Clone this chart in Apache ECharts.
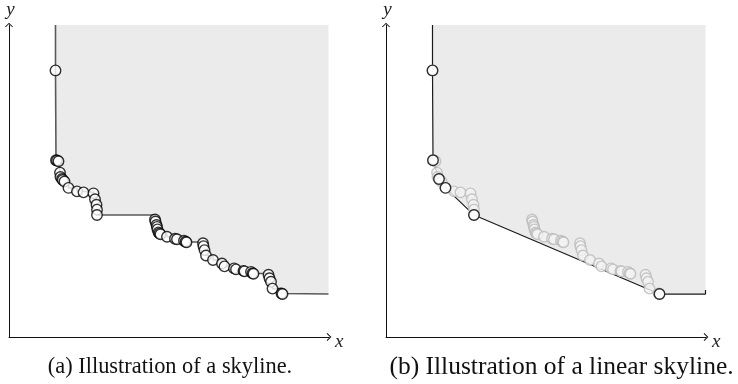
<!DOCTYPE html>
<html>
<head>
<meta charset="utf-8">
<script src="https://cdn.jsdelivr.net/npm/echarts@6/dist/echarts.min.js"></script>
<style>html,body{margin:0;padding:0;background:#fff;}#c{width:738px;height:384px;}</style>
</head>
<body>
<div id="c"></div>
<script>
const points = [
  [46.5,270],[47,179],[48,178.8],[49.5,178],[51,166.5],[51.5,162],[53,160],[53.8,159],[55.5,157.5],[59.5,151],
  [68,147.5],[74.5,146.5],[84.5,145.5],[86,139.5],[87.5,134],[88,129],[88,123.5],
  [146,119],[146.5,117],[147.5,113.5],[148,111.5],[148.5,109],[149.5,106],[150.5,105],[151.5,104],[158,101.5],
  [166,99.5],[168,99],[175,97.5],[176.5,96.5],[177.5,96],
  [194,95],[194.5,92],[195.5,88],[197,82.5],[204,78],[213,74.5],[215.5,71.5],[225,69.5],
  [227,68.5],[234.5,67],[235.5,66.5],[242,66],[243.5,64.5],[244.5,64],
  [259.5,63],[260.5,59.5],[262,56],[263.5,49],[272.5,44],[273.5,43.5]
];
// Points kept by the linear skyline (indices into points)
const linearSkylineIdx = [0,1,6,9,16,50];
const xMax = 320, yMax = 316;
const regionRight = 319.5;
const captions = ['(a) Illustration of a skyline.', '(b) Illustration of a linear skyline.'];
const axisNames = ['x', 'y'];

const arrow = 'path://M4,0 L8,4 L7.3,4.7 L4,1.4 L0.7,4.7 L0,4 Z';
const serif = 'Liberation Serif';

function axisLineCfg() {
  return { show: true, lineStyle: { color: '#111', width: 1 }, symbol: ['none', arrow], symbolSize: [8, 4.7] };
}
function xAxisCfg(gi) {
  return {
    type: 'value', gridIndex: gi, min: 0, max: xMax,
    axisLine: axisLineCfg(), axisTick: { show: false }, axisLabel: { show: false }, splitLine: { show: false },
    name: axisNames[0], nameLocation: 'end', nameGap: 6,
    nameTextStyle: { fontFamily: serif, fontStyle: 'italic', fontSize: 19, color: '#222', verticalAlign: 'top', lineHeight: 10 }
  };
}
function yAxisCfg(gi) {
  return {
    type: 'value', gridIndex: gi, min: 0, max: yMax,
    axisLine: axisLineCfg(), axisTick: { show: false }, axisLabel: { show: false }, splitLine: { show: false },
    name: axisNames[1], nameLocation: 'end', nameGap: 4,
    nameTextStyle: { fontFamily: serif, fontStyle: 'italic', fontSize: 19, color: '#222', align: 'center', verticalAlign: 'bottom', padding: [0, 0, 2, 3] }
  };
}

const first = points[0], last = points[points.length - 1];
const stepData = [[first[0], yMax]].concat(points, [[regionRight, last[1]]]);
const hull = linearSkylineIdx.map(i => points[i]);
const hullLast = hull[hull.length - 1];
const hullLine = [[hull[0][0], yMax]].concat(hull, [[regionRight, hullLast[1]], [regionRight, hullLast[1] + 4]]);

const option = {
  animation: false,
  backgroundColor: '#fff',
  grid: [
    { left: 9, top: 21, width: 320, height: 316 },
    { left: 386, top: 21, width: 320, height: 316 }
  ],
  xAxis: [xAxisCfg(0), xAxisCfg(1)],
  yAxis: [yAxisCfg(0), yAxisCfg(1)],
  series: [
    {
      type: 'line', xAxisIndex: 0, yAxisIndex: 0, step: 'end', data: stepData,
      symbol: 'none', lineStyle: { color: '#5a5a5a', width: 1.6 },
      areaStyle: { origin: 'end', color: '#ebebeb', opacity: 1 }, z: 1
    },
    {
      type: 'scatter', xAxisIndex: 0, yAxisIndex: 0, data: points, symbolSize: 10.5,
      itemStyle: { color: '#fff', borderColor: '#000', borderWidth: 1.4 }, z: 3
    },
    {
      type: 'line', xAxisIndex: 1, yAxisIndex: 1, data: hullLine,
      symbol: 'none', lineStyle: { color: '#1a1a1a', width: 1.2 },
      areaStyle: { origin: 'end', color: '#ebebeb', opacity: 1 }, z: 1
    },
    {
      type: 'scatter', xAxisIndex: 1, yAxisIndex: 1, data: points, symbolSize: 10.5,
      itemStyle: { color: '#f3f3f3', borderColor: '#bababa', borderWidth: 1.4 }, z: 2
    },
    {
      type: 'scatter', xAxisIndex: 1, yAxisIndex: 1, data: hull, symbolSize: 10.5,
      itemStyle: { color: '#fff', borderColor: '#000', borderWidth: 1.4 }, z: 3
    }
  ],
  graphic: [
    { type: 'text', x: 170, y: 367, style: { text: captions[0], font: '22.4px "Liberation Serif"', fill: '#111', textAlign: 'center', textVerticalAlign: 'middle' } },
    { type: 'text', x: 561.5, y: 367, style: { text: captions[1], font: '25.5px "Liberation Serif"', fill: '#111', textAlign: 'center', textVerticalAlign: 'middle' } }
  ]
};
echarts.init(document.getElementById('c'), null, { renderer: 'canvas' }).setOption(option);
</script>
</body>
</html>
